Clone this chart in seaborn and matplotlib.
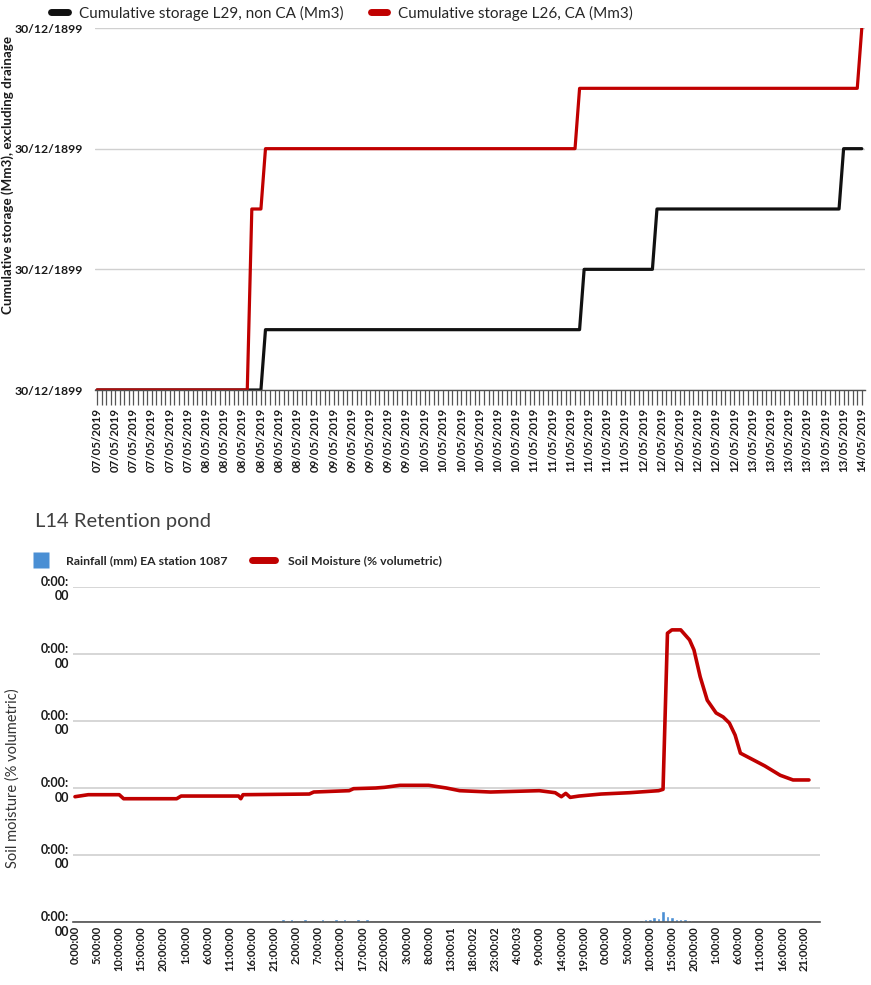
import matplotlib
matplotlib.use("Agg")
import matplotlib.pyplot as plt
from matplotlib.ticker import FixedLocator, MultipleLocator
from matplotlib.lines import Line2D
import pandas as pd
import seaborn as sns

# ---------------- data ----------------
# Cumulative storage (Mm3), hours since 07/05/2019 00:00
l29_hours = [0, 36, 37, 106, 107, 122, 123, 163, 164, 168]
l29_storage = [0.0, 0.0, 0.5, 0.5, 1.0, 1.0, 1.5, 1.5, 2.0, 2.0]

l26_hours = [0, 33, 34, 36, 37, 105, 106, 167, 168]
l26_storage = [0.0, 0.0, 1.5, 1.5, 2.0, 2.0, 2.5, 2.5, 3.0]

storage_ticks = [0, 1, 2, 3]
storage_tick_label = "30/12/1899"

# L14 retention pond, hours since start of record
moisture_hours = [0, 3, 10, 11, 23, 24, 37, 37.5, 38, 53, 54, 62, 63, 68, 70, 73.5,
                  80, 84, 87, 94, 105, 108.6, 110, 111, 112, 114, 119, 125.5, 132,
                  133, 134, 135, 137, 139, 140, 141.4, 143, 145, 146.6, 148, 149.3,
                  150.5, 153.4, 156, 159.5, 162.4, 165, 166]
soil_moisture = [18.7, 19.0, 19.0, 18.4, 18.4, 18.8, 18.8, 18.4, 19.0, 19.1, 19.4,
                 19.6, 19.9, 20.0, 20.1, 20.4, 20.4, 20.0, 19.6, 19.4, 19.6, 19.3,
                 18.7, 19.2, 18.6, 18.8, 19.1, 19.3, 19.6, 19.8, 43.1, 43.6, 43.6,
                 42.1, 40.6, 36.6, 33.1, 31.2, 30.6, 29.7, 27.9, 25.2, 24.2, 23.3,
                 21.9, 21.2, 21.2, 21.2]

rain_hours = [47, 49, 52, 56, 59, 61, 64, 66, 128, 129, 130, 131, 132, 133, 134,
              135, 136, 137, 138, 139]
rainfall = [0.5, 0.4, 0.5, 0.4, 0.4, 0.5, 0.4, 0.5, 0.3, 0.4, 0.5, 0.8, 0.6, 1.7,
            0.9, 0.7, 0.5, 0.4, 0.4, 0.3]

moisture_ticks = [0, 10, 20, 30, 40, 50]
moisture_tick_label = "0:00:\n00"

time_labels = ["0:00:00", "5:00:00", "10:00:00", "15:00:00", "20:00:00", "1:00:00",
               "6:00:00", "11:00:00", "16:00:00", "21:00:00", "2:00:00", "7:00:00",
               "12:00:00", "17:00:00", "22:00:00", "3:00:00", "8:00:00", "13:00:01",
               "18:00:02", "23:00:02", "4:00:03", "9:00:00", "14:00:00", "19:00:00",
               "0:00:00", "5:00:00", "10:00:00", "15:00:00", "20:00:00", "1:00:00",
               "6:00:00", "11:00:00", "16:00:00", "21:00:00"]

date_ticks = pd.date_range("2019-05-07 00:00", "2019-05-14 00:00", freq="4h")
date_labels = [d.strftime("%d/%m/%Y") for d in date_ticks]

# ---------------- style ----------------
sns.set_style("white")
plt.rcParams["font.family"] = ["Lato", "DejaVu Sans"]

RED = "#C00000"
BLACK = "#111111"
BLUE = "#4A8FD4"
GRID = "#D0D0D0"
AXIS = "#505050"
TEXT = "#1a1a1a"

fig = plt.figure(figsize=(8.71, 9.85), dpi=100)

# ---------------- top: cumulative storage ----------------
ax1 = fig.add_axes([95 / 871, 1 - 390 / 985, (865 - 95) / 871, (390 - 28) / 985])
df29 = pd.DataFrame({"hour": l29_hours, "storage": l29_storage})
df26 = pd.DataFrame({"hour": l26_hours, "storage": l26_storage})
sns.lineplot(data=df29, x="hour", y="storage", ax=ax1, color=BLACK, lw=2.3,
             estimator=None, sort=False)
sns.lineplot(data=df26, x="hour", y="storage", ax=ax1, color=RED, lw=2.3,
             estimator=None, sort=False)

ax1.set_xlim(-0.45, 168.7)
ax1.set_ylim(0, 3)
ax1.set_yticks(storage_ticks)
ax1.set_yticklabels([storage_tick_label] * len(storage_ticks),
                    fontsize=8.8, fontweight="bold", color=TEXT)
ax1.yaxis.grid(True, color=GRID, lw=1)
ax1.set_axisbelow(True)
ax1.xaxis.set_major_locator(FixedLocator(list(range(0, 169, 4))))
ax1.set_xticklabels(date_labels, rotation=90, fontsize=8.3, fontweight="bold",
                    color=TEXT)
ax1.xaxis.set_minor_locator(MultipleLocator(1))
ax1.tick_params(axis="x", which="both", direction="out", length=11, width=0.9,
                color="#555555", bottom=True, pad=2)
ax1.tick_params(axis="y", length=0, pad=9)
for s in ["top", "right", "left"]:
    ax1.spines[s].set_visible(False)
ax1.spines["bottom"].set_color(AXIS)
ax1.spines["bottom"].set_linewidth(1.0)
ax1.set_xlabel("")
ax1.set_ylabel("Cumulative storage (Mm3), excluding drainage", fontsize=9.6,
               fontweight="bold", color=TEXT)
ax1.yaxis.set_label_coords(-0.105, 0.595)

top_handles = [Line2D([], [], color=BLACK, lw=5),
               Line2D([], [], color=RED, lw=5)]
fig.legend(top_handles,
           ["Cumulative storage L29, non CA (Mm3)", "Cumulative storage L26, CA (Mm3)"],
           loc="center", bbox_to_anchor=(342 / 871, 1 - 13 / 985), ncol=2,
           frameon=False, fontsize=11, handlelength=1.1, columnspacing=1.8,
           handletextpad=0.7)

# ---------------- bottom: L14 retention pond ----------------
ax2 = fig.add_axes([73 / 871, 1 - 922 / 985, (820 - 73) / 871, (922 - 587) / 985])
ax2.bar(rain_hours, rainfall, width=0.8, color=BLUE, zorder=2)
dfm = pd.DataFrame({"hour": moisture_hours, "moisture": soil_moisture})
sns.lineplot(data=dfm, x="hour", y="moisture", ax=ax2, color=RED, lw=2.6,
             estimator=None, sort=False, zorder=3)

ax2.set_xlim(-0.45, 168.5)
ax2.set_ylim(0, 50)
ax2.set_yticks(moisture_ticks)
ax2.set_yticklabels([moisture_tick_label] * len(moisture_ticks), fontsize=9,
                    fontweight="bold", linespacing=1.25, color=TEXT)
ax2.yaxis.grid(True, color=GRID, lw=1.2)
ax2.set_axisbelow(True)
ax2.set_xticks(list(range(0, 5 * len(time_labels), 5)))
ax2.set_xticklabels(time_labels, rotation=90, fontsize=8, fontweight="bold",
                    color=TEXT)
ax2.tick_params(axis="both", length=0, pad=3)
for s in ["top", "right", "left"]:
    ax2.spines[s].set_visible(False)
ax2.spines["bottom"].set_color(AXIS)
ax2.spines["bottom"].set_linewidth(1.2)
ax2.set_xlabel("")
ax2.set_ylabel("Soil moisture (% volumetric)", fontsize=10.5, color="#333333")
ax2.yaxis.set_label_coords(-0.071, 0.43)

fig.text(35 / 871, 1 - 521 / 985, "L14 Retention pond", fontsize=14.5,
         color="#404040", va="center", ha="left")

bottom_handles = [Line2D([], [], ls="none", marker="s", markersize=11,
                         markerfacecolor=BLUE, markeredgecolor="none"),
                  Line2D([], [], color=RED, lw=5)]
fig.legend(bottom_handles,
           ["Rainfall (mm) EA station 1087", "Soil Moisture (% volumetric)"],
           loc="center", bbox_to_anchor=(236 / 871, 1 - 561 / 985), ncol=2,
           frameon=False, handlelength=1.85, columnspacing=2.0,
           handletextpad=1.1, prop={"weight": "bold", "size": 8.8})

fig.savefig("out.png", dpi=100)
